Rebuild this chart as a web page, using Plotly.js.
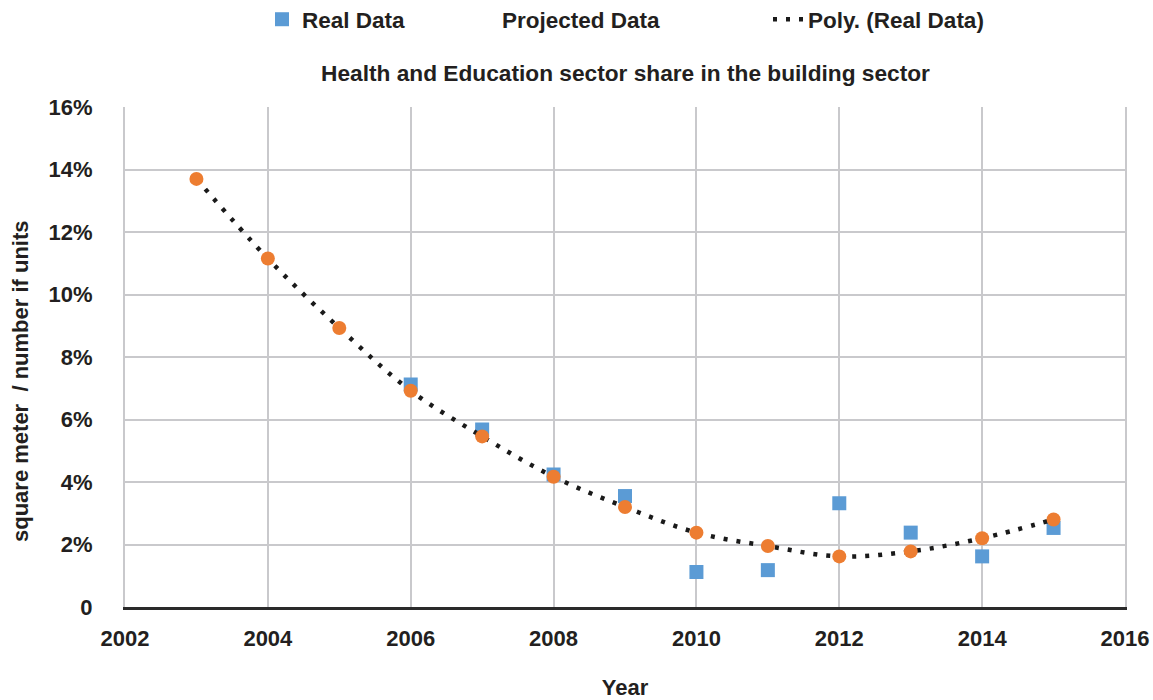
<!DOCTYPE html>
<html>
<head>
<meta charset="utf-8">
<script src="https://cdn.plot.ly/plotly-3.0.1.min.js"></script>
<style>html,body{margin:0;padding:0;background:#fff;}#chart{width:1153px;height:700px;}</style>
</head>
<body>
<div id="chart"></div>
<script>
// ---- data (percent) ----
const projYears = [2003, 2004, 2005, 2006, 2007, 2008, 2009, 2010, 2011, 2012, 2013, 2014, 2015];
const projectedData = [13.70, 11.15, 8.93, 6.92, 5.46, 4.17, 3.20, 2.38, 1.95, 1.62, 1.78, 2.20, 2.80];
const realYears = [2006, 2007, 2008, 2009, 2010, 2011, 2012, 2013, 2014, 2015];
const realData = [7.12, 5.68, 4.24, 3.55, 1.12, 1.18, 3.32, 2.38, 1.62, 2.53];
const yTickVals = [0, 2, 4, 6, 8, 10, 12, 14, 16];
const yTickText = ['0', '2%', '4%', '6%', '8%', '10%', '12%', '14%', '16%'];
const xTickVals = [2002, 2004, 2006, 2008, 2010, 2012, 2014, 2016];
const yTitle = 'square meter  / number if units';

const FONT = 'Liberation Sans, Arial, sans-serif';
const TXT = '#231f20';

const traces = [
  {
    x: realYears, y: realData, name: 'Real Data', type: 'scatter', mode: 'markers',
    marker: {symbol: 'square', size: 14, color: '#5b9bd5'},
    legend: 'legend', hoverinfo: 'x+y'
  },
  {
    x: projYears, y: projectedData, name: 'Poly. (Real Data)', type: 'scatter', mode: 'lines',
    line: {color: '#1a1a1a', width: 4.5, dash: '4px,9px', shape: 'spline'},
    legend: 'legend3', hoverinfo: 'skip'
  },
  {
    x: projYears, y: projectedData, name: 'Projected Data', type: 'scatter', mode: 'markers',
    marker: {symbol: 'circle', size: 14, color: '#ed7d31'},
    showlegend: false, hoverinfo: 'x+y'
  },
  {
    x: [null], y: [null], name: 'Projected Data', type: 'scatter', mode: 'markers',
    marker: {symbol: 'circle', size: 14, color: 'rgba(0,0,0,0)'},
    legend: 'legend2', hoverinfo: 'skip'
  }
];

const legendBase = {
  orientation: 'h', yref: 'container', yanchor: 'middle', y: 0.972, xanchor: 'left',
  font: {family: FONT, size: 22.5, color: TXT, weight: 'bold'},
  bgcolor: 'rgba(0,0,0,0)', borderwidth: 0
};

const layout = {
  width: 1153, height: 700,
  margin: {l: 125, r: 28, t: 107, b: 93, pad: 0},
  paper_bgcolor: '#ffffff', plot_bgcolor: '#ffffff',
  font: {family: FONT, size: 22, color: TXT, weight: 'bold'},
  title: {
    text: 'Health and Education sector share in the building sector',
    font: {family: FONT, size: 22.7, color: TXT, weight: 'bold'},
    x: 0.5425, xanchor: 'center', xref: 'container',
    y: 0.896, yanchor: 'middle', yref: 'container'
  },
  legend: Object.assign({}, legendBase, {x: 0.137}),
  legend2: Object.assign({}, legendBase, {x: 0.337}),
  legend3: Object.assign({}, legendBase, {x: 0.643}),
  xaxis: {
    range: [2002, 2016], tickvals: xTickVals, ticktext: xTickVals.map(String),
    showgrid: true, gridcolor: '#c9c9cc', gridwidth: 2,
    showline: true, linecolor: '#2a2a2a', linewidth: 3, mirror: false,
    zeroline: false, ticks: '', ticklabelstandoff: 10,
    tickfont: {family: FONT, size: 22, color: TXT, weight: 'bold'},
    title: {text: 'Year', font: {family: FONT, size: 22, color: TXT, weight: 'bold'}, standoff: 37},
    automargin: false, fixedrange: true
  },
  yaxis: {
    range: [0, 16], tickvals: yTickVals, ticktext: yTickText,
    showgrid: true, gridcolor: '#c9c9cc', gridwidth: 2,
    showline: true, linecolor: '#c9c9cc', linewidth: 2, mirror: true,
    zeroline: false, ticks: '', ticklabelstandoff: 26,
    tickfont: {family: FONT, size: 22, color: TXT, weight: 'bold'},
    automargin: false, fixedrange: true
  },
  xaxis2: {
    overlaying: 'x', side: 'top', range: [2002, 2016], showline: true, linecolor: '#c9c9cc', linewidth: 2,
    showgrid: false, showticklabels: false, ticks: '', zeroline: false, fixedrange: true
  },
  annotations: [{
    text: yTitle, textangle: -90, showarrow: false,
    xref: 'paper', yref: 'paper', x: -0.105, y: 0.452, xanchor: 'center', yanchor: 'middle',
    font: {family: FONT, size: 22, color: TXT, weight: 'bold'}
  }],
  showlegend: true
};

Plotly.newPlot('chart', traces, layout, {displayModeBar: false, staticPlot: true});
</script>
</body>
</html>
